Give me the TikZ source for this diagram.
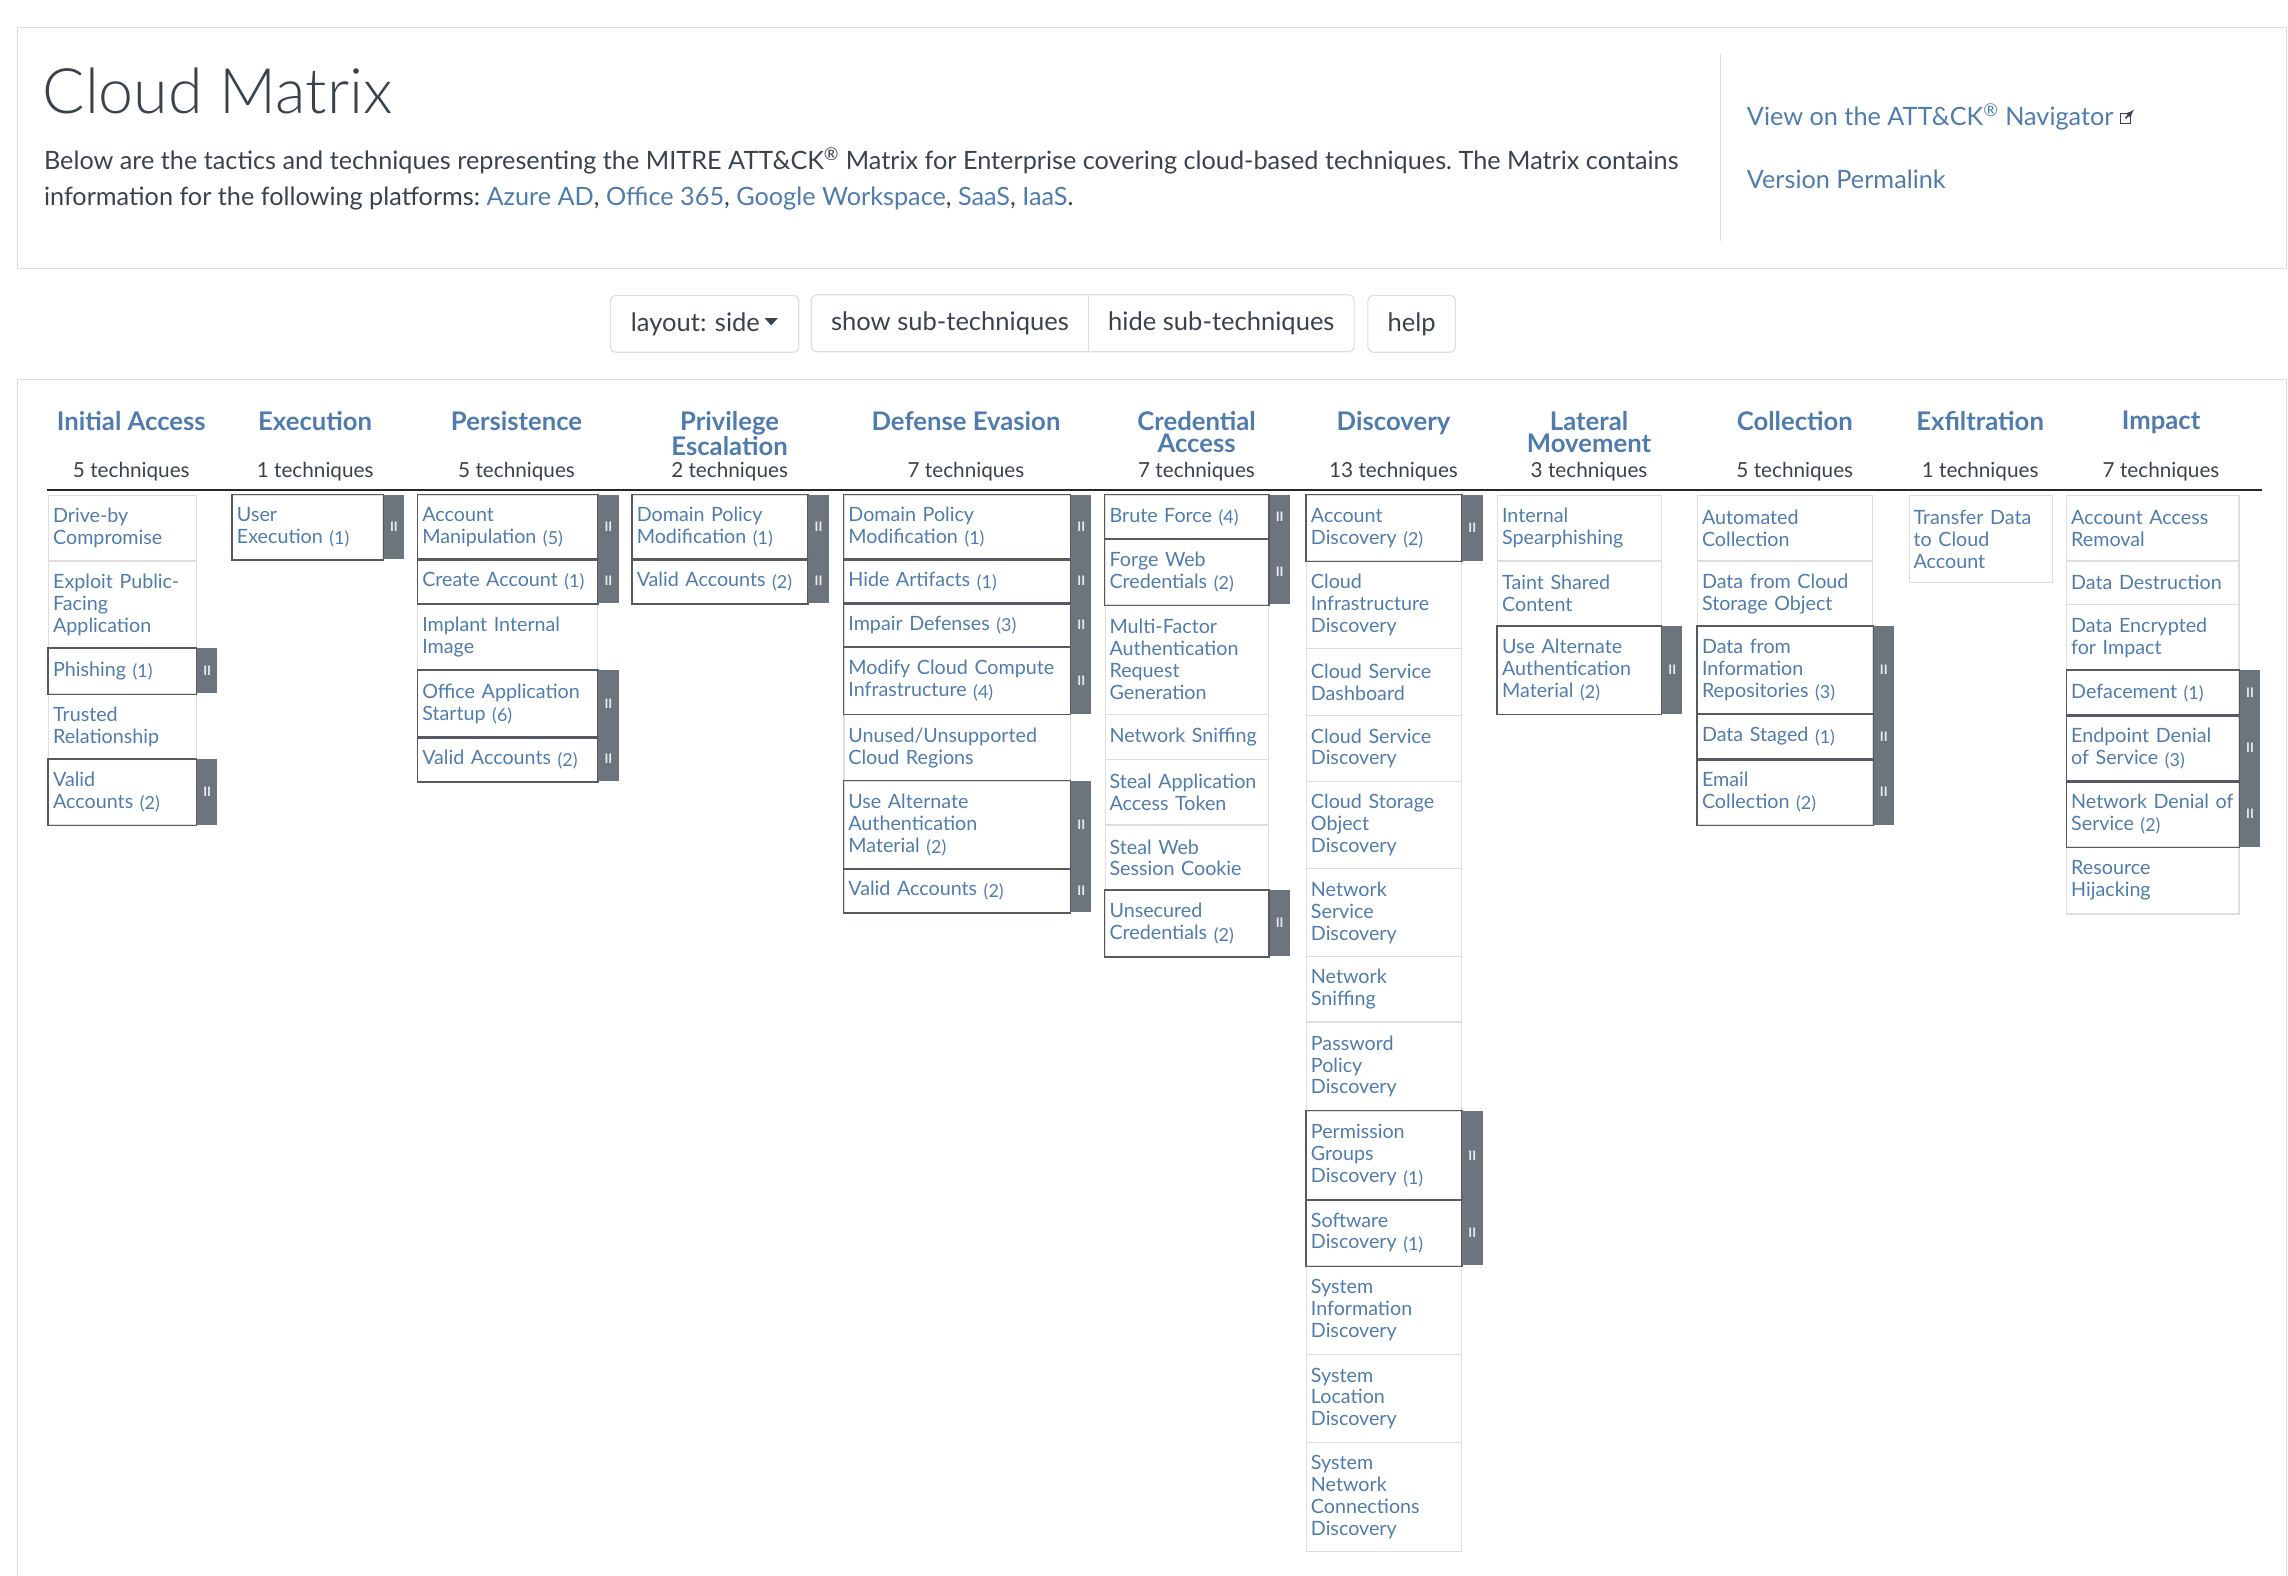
\documentclass[tikz,border=0pt]{standalone}
\usepackage{fontspec}
\setmainfont{Lato}
\newfontfamily\titlefont{Lato Light}
\usepackage{tikz}
\usetikzlibrary{positioning}
\frenchspacing
\definecolor{attblue}{HTML}{4F7CAC}
\definecolor{attdark}{HTML}{39434C}
\definecolor{attgray}{HTML}{6C757D}
\definecolor{attline}{HTML}{DEDEDE}
\definecolor{attsub}{HTML}{555B61}
\newcommand{\cnt}[1]{~\raisebox{-1pt}{\fontsize{12.3}{15}\selectfont(#1)}}
\tikzset{every picture/.style={x=1pt, y=-1pt}}
\tikzset{
  panel/.style={draw=attline, line width=1pt},
  tech/.style={draw=attline, line width=0.8pt, anchor=north west, inner xsep=3pt, inner ysep=0pt,
    align=left, text=attblue, font=\fontsize{13.5}{15}\selectfont},
  subbox/.style={draw=attsub, line width=1pt},
  sidebar/.style={fill=attgray, anchor=north west, minimum width=14pt, inner sep=0pt,
    text=white!85!attgray, font=\fontsize{9}{9}\selectfont\bfseries},
  tactic/.style={anchor=north, inner sep=0pt, align=center, text=attblue, font=\fontsize{17.6}{15}\selectfont\bfseries},
  tcount/.style={anchor=base, inner sep=0pt, text=attdark, font=\fontsize{14.2}{15}\selectfont},
  btn/.style={draw=attline, rounded corners=4pt, line width=0.8pt, text=attdark, font=\fontsize{17.5}{20}\selectfont},
  btntext/.style={inner sep=0pt, text=attdark, font=\fontsize{17.5}{20}\selectfont},
  intro/.style={anchor=base west, inner sep=0pt, text=attdark, font=\fontsize{17.3}{25}\selectfont},
  link/.style={anchor=base west, inner sep=0pt, text=attblue, font=\fontsize{17.3}{20}\selectfont},
}

\begin{document}
\begin{tikzpicture}
\useasboundingbox (0,0) rectangle (1568,1080);
% header panel
\draw[panel] (12,19) rectangle (1567,184);
\node[anchor=base west, inner sep=0pt, text=attdark, font=\titlefont\fontsize{43}{50}\selectfont] (title) at (29,78) {Cloud Matrix};
\node[intro] (intro1) at (30,116) {Below are the tactics and techniques representing the MITRE ATT\&CK\textsuperscript{\textregistered} Matrix for Enterprise covering cloud-based techniques. The Matrix contains};
\node[intro] (intro2) at (30,141) {information for the following platforms: \textcolor{attblue}{Azure AD}, \textcolor{attblue}{Office 365}, \textcolor{attblue}{Google Workspace}, \textcolor{attblue}{SaaS}, \textcolor{attblue}{IaaS}.};
\draw[attline] (1179,37) -- (1179,165);
\node[link] (nav) at (1197,86) {View on the ATT\&CK\textsuperscript{\textregistered} Navigator};
\node[draw=attdark, line width=0.9pt, minimum size=7pt, inner sep=0pt, right=4pt of nav, yshift=-1pt] (navicon) {};
\draw[attdark, line width=1pt, -latex] (navicon.center) -- ([xshift=2pt, yshift=2pt]navicon.north east);
\node[link] (perm) at (1197,129) {Version Permalink};

% buttons
\node[btn, minimum height=39pt, anchor=north west, text width=101pt, inner xsep=14pt, align=left] (layout) at (418,202) {layout:\ side};
\fill[attdark] ([xshift=106pt, yshift=-16pt]layout.north west) -- ++(9pt,0pt) -- ++(-4.5pt,-5pt) -- cycle;
\draw[btn] (556,202) rectangle (928,241);
\draw[attline, line width=0.8pt] (746,202) -- (746,241);
\node[btntext] (show) at (651,221.5) {show sub-techniques};
\node[btntext] (hide) at (837,221.5) {hide sub-techniques};
\node[btn, minimum width=60pt, minimum height=39pt, anchor=north west] (help) at (937,202) {help};

% matrix panel
\draw[panel] (12,260) rectangle (1567,1100);
\foreach \n/\x/\t/\k in {ia/90/{Initial Access}/5, ex/216/Execution/1, pe/354/Persistence/5,
  pr/500/{Privilege\\Escalation}/2, de/662/{Defense Evasion}/7, ca/820/{Credential\\Access}/7,
  di/955/Discovery/13, lm/1089/{Lateral\\Movement}/3, co/1230/Collection/5,
  exf/1357/Exfiltration/1, im/1481/Impact/7} {
\node[tactic] (\n h) at (\x,281.5) {\t};
\node[tcount] (\n n) at (\x,327) {\k\ techniques};
}
\draw[black!85, line width=1.2pt] (32,336) -- (1550,336);

% techniques: column/x/width/{index/top/height/sub/text}
\foreach \c/\x/\w/\cells in {
  ia/33/101/{1/339/45/0/{Drive-by\\Compromise}, 2/384/60/0/{Exploit Public-\\Facing\\Application},
    3/444/31/1/{Phishing\cnt{1}}, 4/475/45/0/{Trusted\\Relationship}, 5/520/45/1/{Valid\\Accounts\cnt{2}}},
  ex/159/103/{1/339/44/1/{User\\Execution\cnt{1}}},
  pe/286/123/{1/339/44/1/{Account\\Manipulation\cnt{5}}, 2/383/30/1/{Create Account\cnt{1}},
    3/413/46/0/{Implant Internal\\Image}, 4/459/46/1/{Office Application\\Startup\cnt{6}},
    5/505/30/1/{Valid Accounts\cnt{2}}},
  pr/433/120/{1/339/44/1/{Domain Policy\\Modification\cnt{1}}, 2/383/30/1/{Valid Accounts\cnt{2}}},
  de/578/155/{1/339/44/1/{Domain Policy\\Modification\cnt{1}}, 2/383/30/1/{Hide Artifacts\cnt{1}},
    3/413/30/1/{Impair Defenses\cnt{3}}, 4/443/46/1/{Modify Cloud Compute\\Infrastructure\cnt{4}},
    5/489/46/0/{Unused/Unsupported\\Cloud Regions}, 6/535/60/1/{Use Alternate\\Authentication\\Material\cnt{2}},
    7/595/30/1/{Valid Accounts\cnt{2}}},
  ca/757/112/{1/339/30/1/{Brute Force\cnt{4}}, 2/369/45/1/{Forge Web\\Credentials\cnt{2}},
    3/414/75/0/{Multi-Factor\\Authentication\\Request\\Generation}, 4/489/31/0/{Network~Sniffing},
    5/520/45/0/{Steal~Application\\Access Token}, 6/565/45/0/{Steal Web\\Session Cookie},
    7/610/45/1/{Unsecured\\Credentials\cnt{2}}},
  di/895/106/{1/339/45/1/{Account\\Discovery\cnt{2}}, 2/384/60/0/{Cloud\\Infrastructure\\Discovery},
    3/444/46/0/{Cloud Service\\Dashboard}, 4/490/45/0/{Cloud Service\\Discovery},
    5/535/60/0/{Cloud Storage\\Object\\Discovery}, 6/595/60/0/{Network\\Service\\Discovery},
    7/655/45/0/{Network\\Sniffing}, 8/700/61/0/{Password\\Policy\\Discovery},
    9/761/61/1/{Permission\\Groups\\Discovery\cnt{1}}, 10/822/45/1/{Software\\Discovery\cnt{1}},
    11/867/61/0/{System\\Information\\Discovery}, 12/928/60/0/{System\\Location\\Discovery},
    13/988/75/0/{System\\Network\\Connections\\Discovery}},
  lm/1026/112/{1/339/45/0/{Internal\\Spearphishing}, 2/384/45/0/{Taint Shared\\Content},
    3/429/60/1/{Use Alternate\\Authentication\\Material\cnt{2}}},
  co/1163/120/{1/339/45/0/{Automated\\Collection}, 2/384/45/0/{Data from Cloud\\Storage Object},
    3/429/60/1/{Data from\\Information\\Repositories\cnt{3}}, 4/489/31/1/{Data Staged\cnt{1}},
    5/520/45/1/{Email\\Collection\cnt{2}}},
  exf/1308/98/{1/339/60/0/{Transfer Data\\to Cloud\\Account}},
  im/1416/118/{1/339/45/0/{Account Access\\Removal}, 2/384/30/0/{Data Destruction},
    3/414/45/0/{Data Encrypted\\for Impact}, 4/459/31/1/{Defacement\cnt{1}},
    5/490/45/1/{Endpoint Denial\\of Service\cnt{3}}, 6/535/45/1/{Network~Denial~of\\Service\cnt{2}},
    7/580/46/0/{Resource\\Hijacking}}} {
\pgfmathsetmacro{\tw}{\w-6}
\foreach \i/\ya/\h/\s/\t in \cells
  \node[tech, text width=\tw pt, minimum height=\h pt] (\c\i) at (\x,\ya) {\t};
\foreach \i/\ya/\h/\s/\t in \cells {
  \ifnum\s=1
    \draw[subbox] (\c\i.north west) rectangle (\c\i.south east);
    \node[sidebar, minimum height=\h pt] (\c\i s) at (\c\i.north east) {II};
  \fi
}
}
\end{tikzpicture}
\end{document}
